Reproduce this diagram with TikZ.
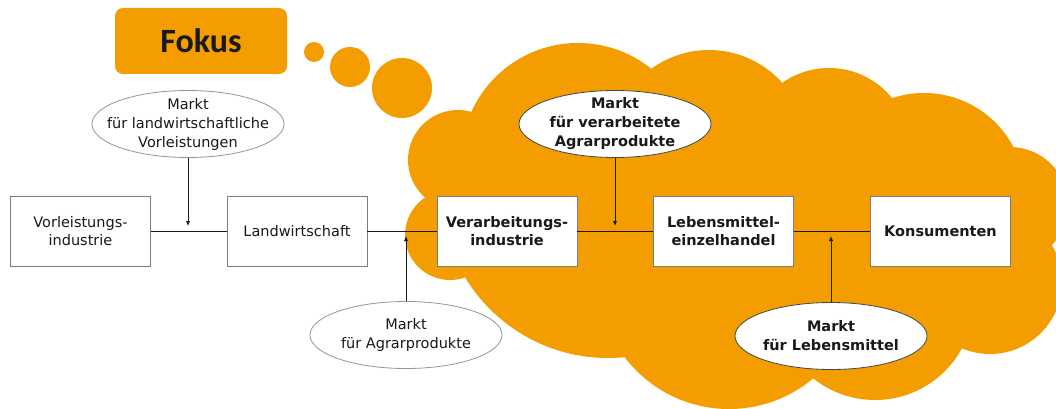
\documentclass[tikz,border=0pt]{standalone}
\usepackage{fontspec}
\setmainfont{DejaVu Sans}
\newfontfamily\fokusfont{Carlito}
\usetikzlibrary{shapes.geometric,arrows.meta}
\definecolor{cloudorange}{RGB}{243,157,0}
\definecolor{boxline}{RGB}{125,125,125}
\definecolor{lightline}{RGB}{150,150,150}
\definecolor{darkline}{RGB}{70,70,70}
\definecolor{ink}{RGB}{25,25,25}
\begin{document}
\begin{tikzpicture}[x=1pt,y=-1pt,
  font=\fontsize{14.5}{18}\selectfont,
  stage/.style={draw=boxline, line width=0.8pt, fill=white, minimum width=140pt,
    minimum height=70pt, inner sep=0pt, align=center, text=ink},
  stagebold/.style={stage, font=\fontsize{14.5}{18}\selectfont\bfseries},
  market/.style={ellipse, fill=white, draw=#1, line width=0.8pt,
    minimum width=192pt, minimum height=67pt, inner sep=0pt},
  marktext/.style={align=center, text=ink, font=\fontsize{14.5}{19}\selectfont},
  marktextbold/.style={marktext, font=\fontsize{14.5}{19}\selectfont\bfseries},
  flow/.style={line width=0.9pt, ink},
  feed/.style={line width=0.9pt, ink, -{Latex[length=5pt,width=4.5pt]}},
]
% canvas
\fill[white] (0,0) rectangle (1056,409);
\useasboundingbox (0,0) rectangle (1056,409);

% the thought cloud, built from overlapping lobes
\begin{scope}[fill=cloudorange]
  \fill (450,235) circle[radius=45];
  \fill (458,160) circle[radius=50];
  \fill (578,160) circle[radius=117];
  \fill (709,148) circle[radius=98];
  \fill (829,149) circle[radius=81];
  \fill (924,194) circle[radius=101];
  \fill (1010,205) circle[radius=58];
  \fill (990,282) circle[radius=72];
  \fill (875,301) circle[radius=99];
  \fill (729,278) circle[radius=131];
  \begin{scope}
    \clip (440,250) rectangle (700,409);
    \fill (608,191) circle[radius=167];
  \end{scope}
  \fill (450,230) -- (560,120) -- (700,110) -- (830,120) -- (930,150)
    -- (1010,210) -- (1000,300) -- (880,360) -- (730,370) -- (600,330)
    -- (480,270) -- cycle;
  % thought bubbles
  \fill (314,52) circle[radius=10];
  \fill (350,67) circle[radius=20];
  \fill (402,88) circle[radius=30];
\end{scope}

% heading
\node[fill=cloudorange, rounded corners=8pt, minimum width=172pt, minimum height=66pt,
  inner sep=0pt, text=ink, font=\fokusfont\bfseries\fontsize{34}{40}\selectfont]
  (fokus) at (201,41) {Fokus};

% stages of the chain
\node[stage] (vor) at (80.5,231.5) {Vorleistungs-\\industrie};
\node[stage] (land) at (297,231.5) {Landwirtschaft};
\node[stagebold] (verarb) at (507,231.5) {Verarbeitungs-\\industrie};
\node[stagebold] (lebens) at (723.5,231.5) {Lebensmittel-\\einzelhandel};
\node[stagebold] (kons) at (940.5,231.5) {Konsumenten};

\draw[flow] (vor.east) -- (land.west);
\draw[flow] (land.east) -- (verarb.west);
\draw[flow] (verarb.east) -- (lebens.west);
\draw[flow] (lebens.east) -- (kons.west);

% markets between the stages
\node[market=lightline] (m1) at (188,124) {};
\node[marktext] at (m1) {Markt\\für landwirtschaftliche\\Vorleistungen};
\node[market=lightline] (m2) at (406,335) {};
\node[marktext] at (m2) {Markt\\für Agrarprodukte};
\node[market=darkline] (m3) at (615,124) {};
\node[marktextbold] at (m3) {Markt\\für verarbeitete\\Agrarprodukte};
\node[market=darkline] (m4) at (831,336) {};
\node[marktextbold] at (m4) {Markt\\für Lebensmittel};

\coordinate (a1) at (188,226);
\coordinate (a2) at (406,236);
\coordinate (a3) at (615,226);
\coordinate (a4) at (831,236);
\draw[feed] (m1.south) -- (a1);
\draw[feed] (m2.north) -- (a2);
\draw[feed] (m3.south) -- (a3);
\draw[feed] (m4.north) -- (a4);
\end{tikzpicture}
\end{document}
